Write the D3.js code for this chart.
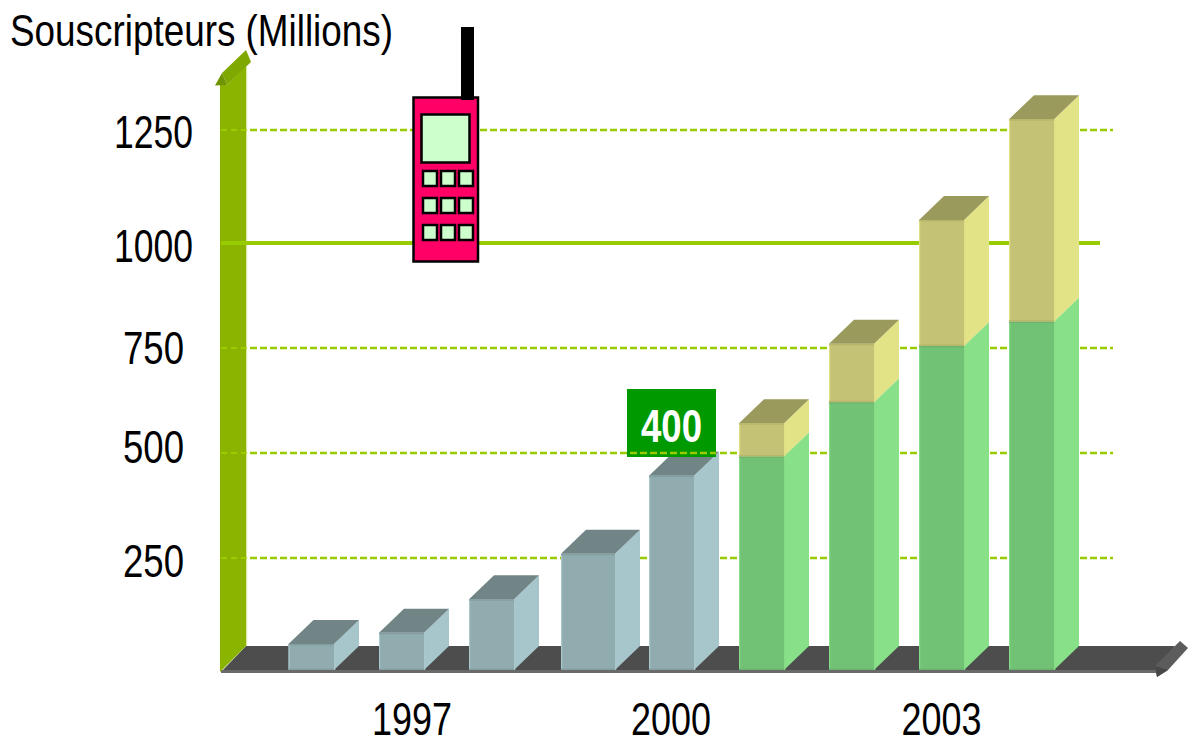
<!DOCTYPE html>
<html><head><meta charset="utf-8">
<script src="https://cdn.jsdelivr.net/npm/d3@7/dist/d3.min.js"></script>
<style>html,body{margin:0;padding:0;background:#fff;overflow:hidden}svg{display:block}text{font-family:"Liberation Sans",Arial,sans-serif}</style>
</head><body><svg id="c" width="1188" height="736"></svg>
<script>
const years=[1996,1997,1998,1999,2000,2001,2002,2003,2004];
const baseValues=[58,83,158,260,446,492,621,755,813];
const extraValues=[0,0,0,0,0,79,139,296,461];
const yTicks=[250,500,750,1000,1250];
const yearLabels=[1997,2000,2003];
const calloutValue=400;
const titleText="Souscripteurs (Millions)";

const dx=25,dy=24;
const svg=d3.select("#c");
const y=d3.scaleLinear().domain([0,250,500,750,1000,1250]).range([670,558,453,348,243,130]);
const xLeft=d3.scaleOrdinal().domain(years).range([288.5,379,469,561,649,739,829,919,1009]);
const xRight=d3.scaleOrdinal().domain(years).range([334,424,514,615,694,784,874,964,1054]);
const xLabel=d3.scaleLinear().domain([1997,2000,2003]).range([412,671,941.5]);

// floor
svg.append("path").attr("d","M221,672L246,646H1175L1155,672Z").attr("fill","#4d4d4d");
svg.append("rect").attr("x",221).attr("y",670).attr("width",935).attr("height",3).attr("fill","#6a6a6a");
svg.append("path").attr("d","M1155,666L1180,641L1188,648L1168,670L1157,677Z").attr("fill","#5c5c5c");
svg.append("path").attr("d","M1155,666L1168,670L1157,677Z").attr("fill","#484848");

// wall
svg.append("path").attr("d","M220,672V85H227L246,66V646Z").attr("fill","#8ab400");
svg.append("rect").attr("x",246).attr("y",67).attr("width",1.2).attr("height",579).attr("fill","#dbe8ab");
svg.append("path").attr("d","M222,73L246,50L251,62L227,85Z").attr("fill","#7fa800");
svg.append("path").attr("d","M222,73L215,85.5L227,85Z").attr("fill","#6f9400");

// grid
yTicks.forEach(t=>{
  if(t===1000){
    svg.append("line").attr("x1",221).attr("x2",1100).attr("y1",y(t)).attr("y2",y(t))
      .attr("stroke","#99cc00").attr("stroke-width",4);
  } else {
    svg.append("line").attr("x1",221).attr("x2",247).attr("y1",y(t)).attr("y2",y(t))
      .attr("stroke","#a3d400").attr("stroke-width",1.5).attr("stroke-dasharray","6 4");
    svg.append("line").attr("x1",250).attr("x2",1113).attr("y1",y(t)).attr("y2",y(t))
      .attr("stroke","#99cc00").attr("stroke-width",2.5).attr("stroke-dasharray","7 3");
  }
});

function box(g,x0,x1,top,bot,front,side,roof,light,dark){
  g.append("path").attr("d",`M${x1},${top}L${x1+dx},${top-dy}V${bot-dy}L${x1},${bot}Z`).attr("fill",side);
  g.append("rect").attr("x",x0).attr("y",top).attr("width",x1-x0).attr("height",bot-top).attr("fill",front);
  if(roof) g.append("path").attr("d",`M${x0},${top}L${x0+dx},${top-dy}H${x1+dx}L${x1},${top}Z`).attr("fill",roof);
  g.append("rect").attr("x",x0).attr("y",top).attr("width",1.2).attr("height",bot-top).attr("fill",light);
  g.append("rect").attr("x",x1).attr("y",top).attr("width",1.2).attr("height",bot-top).attr("fill",light);
  g.append("rect").attr("x",x0).attr("y",top).attr("width",x1-x0).attr("height",1.5).attr("fill",dark);
  g.append("rect").attr("x",x0).attr("y",bot-1.5).attr("width",x1-x0).attr("height",1.5).attr("fill",dark);
}
const g=svg.append("g");
years.forEach((yr,i)=>{
  const x0=xLeft(yr),x1=xRight(yr),b=baseValues[i],e=extraValues[i];
  if(e>0){
    box(g,x0,x1,y(b),y(0),"#72c276","#88e088",null,"#86dc86","#6ab56e");
    box(g,x0,x1,y(b+e),y(b),"#c4c274","#e2e286","#9a9a5c","#e0df88","#b8b66c");
  } else {
    box(g,x0,x1,y(b),y(0),"#91acaf","#a7c6cb","#718486","#a9c8cc","#849fa2");
  }
});

// callout
svg.append("rect").attr("x",627).attr("y",389).attr("width",89).attr("height",68).attr("fill","#009900");
svg.append("line").attr("x1",630).attr("x2",716).attr("y1",453).attr("y2",453).attr("stroke","#99cc00").attr("stroke-width",2.5).attr("stroke-dasharray","7 3");
svg.append("text").attr("x",641).attr("y",442).attr("font-size",46).attr("font-weight","bold")
  .attr("textLength",61).attr("lengthAdjust","spacingAndGlyphs").attr("fill","#fff").text(calloutValue);

// phone
const p=svg.append("g");
p.append("rect").attr("x",413.5).attr("y",97.5).attr("width",64.5).attr("height",164).attr("fill","#ff0066").attr("stroke","#000").attr("stroke-width",2.5);
p.append("rect").attr("x",461).attr("y",27).attr("width",13).attr("height",73).attr("fill","#000");
p.append("rect").attr("x",421.5).attr("y",114.5).attr("width",48).attr("height",48).attr("fill","#ccffcc").attr("stroke","#000").attr("stroke-width",2.5);
[171,198,225].forEach(ky=>[423,441,459].forEach(kx=>{
  p.append("rect").attr("x",kx).attr("y",ky).attr("width",14).attr("height",15).attr("fill","#ccffcc").attr("stroke","#000").attr("stroke-width",2.5);
}));

// text
svg.append("text").attr("x",10).attr("y",46).attr("font-size",44).attr("textLength",383).attr("lengthAdjust","spacingAndGlyphs").attr("fill","#000").text(titleText);
const lblY={250:577,500:463,750:364,1000:262,1250:148};
yTicks.forEach(t=>{
  const four=t>=1000;
  svg.append("text").attr("x",four?114:123).attr("y",lblY[t]).attr("font-size",46)
    .attr("textLength",four?79:61).attr("lengthAdjust","spacingAndGlyphs").attr("fill","#000").text(t);
});
yearLabels.forEach(l=>{
  svg.append("text").attr("x",xLabel(l)-40).attr("y",735).attr("font-size",46)
    .attr("textLength",80).attr("lengthAdjust","spacingAndGlyphs").attr("fill","#000").text(l);
});
</script></body></html>
